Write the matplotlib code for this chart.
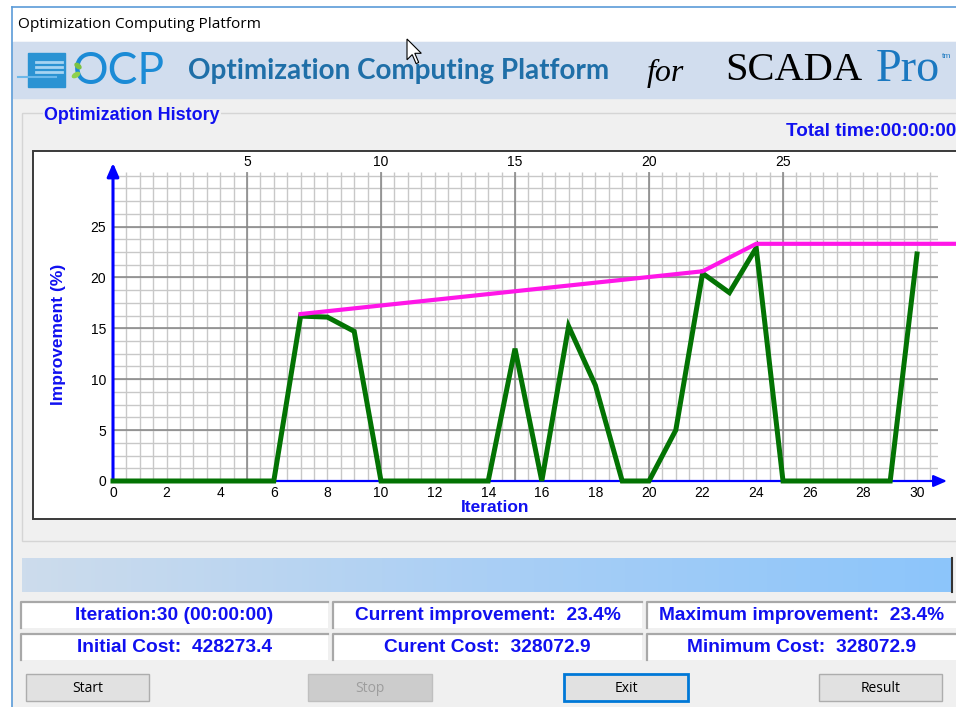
import numpy as np
import matplotlib.pyplot as plt
from matplotlib.patches import Rectangle, Polygon, Ellipse
from matplotlib.colors import LinearSegmentedColormap


# chart data
iterations = list(range(31))
improvement = [0, 0, 0, 0, 0, 0, 0, 16.2, 16.1, 14.7, 0, 0, 0, 0, 0, 13.0,
               0, 15.2, 9.4, 0, 0, 5.0, 20.4, 18.5, 22.9, 0, 0, 0, 0, 0, 22.3]
best_iter = [7, 22, 24]
best_value = [16.4, 20.6, 23.3]

bottom_ticks = list(range(0, 31, 2))
top_ticks = [5, 10, 15, 20, 25]
left_ticks = [0, 5, 10, 15, 20, 25]

window_title = "Optimization Computing Platform"
group_title = "Optimization History"
total_time = "Total time:00:00:00"
info_rows = [["Iteration:30 (00:00:00)", "Current improvement:  23.4%", "Maximum improvement:  23.4%"],
             ["Initial Cost:  428273.4", "Curent Cost:  328072.9", "Minimum Cost:  328072.9"]]
buttons = ["Start", "Stop", "Exit", "Result"]

#layout constants (pixels)
W, H = 956, 707
X0_PX, PX_PER_X = 113, 26.8
Y0_PX, PX_PER_Y = 481, 10.18
X_MAX, Y_MAX = 30.8, 30.4
FRAME_RIGHT = 958
BLUE = "#1010f0"
SANS = ["Liberation Sans", "DejaVu Sans"]
UI_FONT = ["Open Sans", "DejaVu Sans"]
SERIF = ["Liberation Serif", "DejaVu Serif"]

fig = plt.figure(figsize=(W / 100, H / 100), dpi=100, facecolor="white")


def fig_box(x0, y0, x1, y1):
    return [x0 / W, 1 - y1 / H, (x1 - x0) / W, (y1 - y0) / H]


def fit_text(ax, x, y, s, width, **kw):
    t = ax.text(x, y, s, **kw)
    r = fig.canvas.get_renderer()
    w = t.get_window_extent(r).width
    t.set_fontsize(t.get_fontsize() * width / w)
    return t


ui = fig.add_axes([0, 0, 1, 1])
ui.set_xlim(0, W)
ui.set_ylim(H, 0)
ui.axis("off")

#window, title bar, banner
ui.add_patch(Rectangle((12, 42), W, H, color="#f0f0f0", zorder=0))
ui.plot([12, 12], [7, H], color="#5b9bd8", lw=1.2)
ui.plot([12, W], [7, 7], color="#5b9bd8", lw=1.2)
fit_text(ui, 18, 24, window_title, 243, va="center", ha="left", fontsize=10,
         family=UI_FONT, color="black")
ui.add_patch(Rectangle((13, 42), W, 56, color="#d1ddee", zorder=1))

#logo
ui.add_patch(Rectangle((28, 53), 37, 34, color="#2b93d3", zorder=2))
for yy in [62, 67, 72]:
    ui.plot([36, 62], [yy, yy], color="#a6d4f2", lw=2, zorder=3)
ui.plot([18, 56], [77, 77], color="#6cb8ea", lw=1.5, zorder=3)
fit_text(ui, 73, 71, "OCP", 92, va="center", ha="left", fontsize=30,
         family=["Lato", "DejaVu Sans"], color="#1b8bd6", zorder=3)
ui.add_patch(Ellipse((78, 66), 7, 4, angle=40, color="#7cc242", zorder=4))
ui.add_patch(Ellipse((76, 75), 8, 4, angle=-30, color="#8fd14f", zorder=4))
fit_text(ui, 188, 71, "Optimization Computing Platform", 422, va="center", ha="left",
         fontsize=20, weight="bold", family=["Lato", "DejaVu Sans"], color="#1f6fa8", zorder=3)
ui.text(647, 73, "for", va="center", ha="left", fontsize=23, style="italic",
        family=SERIF, color="black", zorder=3)
fit_text(ui, 725, 70, "SCADA", 137, va="center", ha="left", fontsize=30,
         family=SERIF, color="black", zorder=3)
fit_text(ui, 876, 70, "Pro", 64, va="center", ha="left", fontsize=30,
         family=SERIF, color="#1a78c0", zorder=3)
ui.text(942, 57, "tm", va="center", ha="left", fontsize=6, family=SANS,
        color="#1a78c0", zorder=3)

#mouse pointer
arrow = np.array([[0, 0], [0, 16], [4, 12], [7, 19], [9, 18], [6, 11], [11, 11]]) * 1.3
ui.add_patch(Polygon(arrow + [407, 39], closed=True, facecolor="white",
                     edgecolor="black", lw=0.8, zorder=6))

#group box
ui.add_patch(Rectangle((22, 113), 940, 428, fill=False, edgecolor="#d5d5d5", lw=1, zorder=1))
ui.text(44, 115, group_title, va="center", ha="left", fontsize=12.9, weight="bold",
        family=SANS, color=BLUE, zorder=2,
        bbox=dict(facecolor="#f0f0f0", edgecolor="none", pad=1))
ui.text(786, 132, total_time, va="center", ha="left", fontsize=13.6, weight="bold",
        family=SANS, color=BLUE, zorder=2)

#chart frame
ui.add_patch(Rectangle((33, 151), FRAME_RIGHT + 4 - 33, 368, facecolor="white",
                       edgecolor="#3a3a3a", lw=1.4, zorder=2))

#progress bar
cmap = LinearSegmentedColormap.from_list("bar", ["#cddcec", "#aacff5", "#8cc5fb"])
ui.imshow(np.linspace(0, 1, 256)[None, :], cmap=cmap, extent=(22, 952, 592, 558),
          aspect="auto", zorder=2)
ui.plot([952, 952], [558, 592], color="#333333", lw=1.5, zorder=3)

#info boxes
cols = [(21, 328), (333, 642), (647, 960)]
rows = [(602, 628), (634, 660)]
for r, (y0, y1) in enumerate(rows):
    for c, (x0, x1) in enumerate(cols):
        ui.add_patch(Rectangle((x0, y0), x1 - x0, y1 - y0, facecolor="white",
                               edgecolor="none", zorder=2))
        ui.plot([x0, x0, x1], [y1, y0, y0], color="#a8a8a8", lw=1.6, zorder=3)
        xc = (x0 + min(x1, W)) / 2
        ui.text(xc, (y0 + y1) / 2 + 1, info_rows[r][c], ha="center", va="center",
                fontsize=13.8, weight="bold", family=SANS, color=BLUE, zorder=4)

#buttons
button_x = [(26, 149), (308, 432), (564, 688), (819, 942)]
for name, (x0, x1) in zip(buttons, button_x):
    face, edge, txt, lw = "#e1e1e1", "#adadad", "black", 1
    if name == "Stop":
        face, edge, txt = "#cccccc", "#bfbfbf", "#9d9d9d"
    if name == "Exit":
        edge, lw = "#0078d7", 2
    ui.add_patch(Rectangle((x0, 674), x1 - x0, 27, facecolor=face, edgecolor=edge,
                           lw=lw, zorder=2))
    ui.text((x0 + x1) / 2, 688, name, ha="center", va="center", fontsize=10,
            family=UI_FONT, color=txt, zorder=3)

ui.set_xlim(0, W)
ui.set_ylim(H, 0)

#chart
ax = fig.add_axes(fig_box(X0_PX, Y0_PX - Y_MAX * PX_PER_Y, X0_PX + X_MAX * PX_PER_X, Y0_PX))
ax.set_xlim(0, X_MAX)
ax.set_ylim(0, Y_MAX)
ax.patch.set_alpha(0)
for sp in ax.spines.values():
    sp.set_visible(False)

ax.vlines(np.arange(0.5, X_MAX, 0.5), 0, Y_MAX, color="#c8c8c8", lw=1.0, zorder=1)
ax.hlines(np.arange(1.25, Y_MAX, 1.25), 0, X_MAX, color="#c8c8c8", lw=1.0, zorder=1)
ax.vlines(top_ticks, 0, Y_MAX, color="#858585", lw=1.1, zorder=1.5)
ax.hlines(left_ticks[1:], 0, X_MAX, color="#858585", lw=1.1, zorder=1.5)

ax.set_xticks(bottom_ticks)
ax.set_yticks(left_ticks)
ax.tick_params(axis="x", length=0, pad=3.5, labelsize=10)
ax.tick_params(axis="y", length=0, pad=5, labelsize=10)
sec = ax.secondary_xaxis("top")
sec.set_xticks(top_ticks)
sec.tick_params(length=0, pad=2, labelsize=10)
for sp in sec.spines.values():
    sp.set_visible(False)
for lab in ax.get_xticklabels() + ax.get_yticklabels() + sec.get_xticklabels():
    lab.set_family(SANS)

ax.set_xlabel("Iteration", fontsize=12.5, weight="bold", family=SANS, color=BLUE, va="center")
ax.xaxis.set_label_coords((495 - X0_PX) / (X_MAX * PX_PER_X), (Y0_PX - 507) / (Y_MAX * PX_PER_Y))
ax.set_ylabel("Improvement (%)", fontsize=12.5, weight="bold", family=SANS, color=BLUE, va="center")
ax.yaxis.set_label_coords((58 - X0_PX) / (X_MAX * PX_PER_X), (Y0_PX - 334) / (Y_MAX * PX_PER_Y))

ax.annotate("", xy=(0, 31.24), xytext=(0, 0), annotation_clip=False,
            arrowprops=dict(arrowstyle="-|>,head_length=0.8,head_width=0.35", color="#0000ff",
                            lw=2.2, shrinkA=0, shrinkB=0), zorder=3)
ax.annotate("", xy=(31.12, 0), xytext=(0, 0), annotation_clip=False,
            arrowprops=dict(arrowstyle="-|>,head_length=0.8,head_width=0.35", color="#0000ff",
                            lw=1.6, shrinkA=0, shrinkB=0), zorder=3)

ax.plot(iterations, improvement, color="#037303", lw=3.6, solid_joinstyle="miter",
        clip_on=False, zorder=4)
x_end = (FRAME_RIGHT - X0_PX) / PX_PER_X
ax.plot(best_iter + [x_end], best_value + [best_value[-1]], color="#ff16e8", lw=3,
        clip_on=False, zorder=5)

fig.savefig("out.png", dpi=100)
